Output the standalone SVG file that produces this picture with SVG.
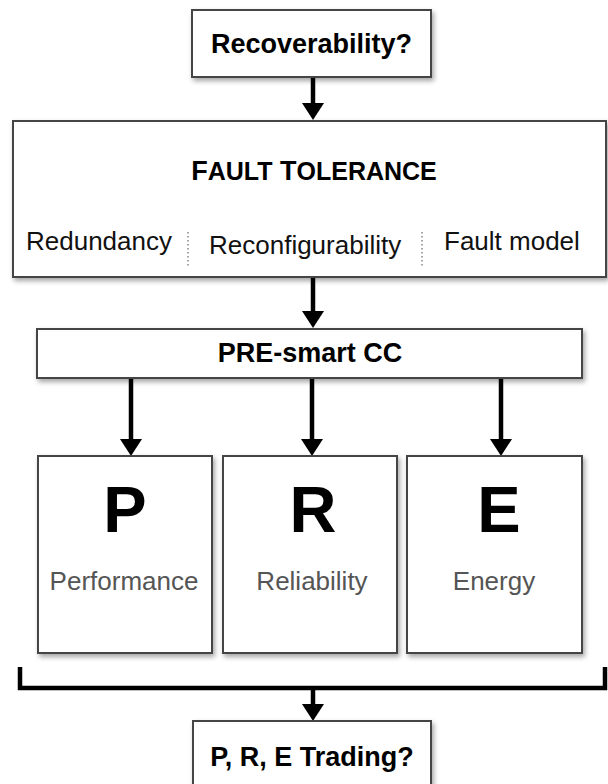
<svg xmlns="http://www.w3.org/2000/svg" width="608" height="784" viewBox="0 0 608 784">
  <defs>
    <filter id="shadow" x="-10%" y="-10%" width="130%" height="130%">
      <feDropShadow dx="2" dy="3" stdDeviation="2.5" flood-color="#000" flood-opacity="0.35"/>
    </filter>
    <!-- filled triangular arrowhead, tip at the origin, pointing down -->
    <path id="tip" d="M-11,-17 L11,-17 L0,0 Z" fill="#000"/>
  </defs>
  <style>
    .box { fill: #fff; stroke: #444; stroke-width: 2; filter: url(#shadow); }
    .title { font-family: "Liberation Sans", Arial, sans-serif; font-weight: bold; font-size: 27px; fill: #000; text-anchor: middle; }
    .sub { font-family: "Liberation Sans", Arial, sans-serif; font-size: 26px; fill: #111; }
    .big { font-family: "Liberation Sans", Arial, sans-serif; font-weight: bold; font-size: 65px; fill: #000; text-anchor: middle; }
    .label { font-family: "Liberation Sans", Arial, sans-serif; font-size: 26px; fill: #555; text-anchor: middle; }
    .sep { stroke: #888; stroke-width: 1.5; stroke-dasharray: 1.5 2.5; }
    .conn { stroke: #000; stroke-width: 4.5; fill: none; }
  </style>

  <!-- connectors -->
  <g id="connectors">
    <line class="conn" x1="313" y1="78" x2="313" y2="105"/>
    <use href="#tip" x="313" y="120"/>
    <line class="conn" x1="313" y1="277" x2="313" y2="313"/>
    <use href="#tip" x="313" y="328"/>
    <line class="conn" x1="131" y1="378" x2="131" y2="441"/>
    <use href="#tip" x="131" y="456"/>
    <line class="conn" x1="312" y1="378" x2="312" y2="441"/>
    <use href="#tip" x="312" y="456"/>
    <line class="conn" x1="501" y1="378" x2="501" y2="441"/>
    <use href="#tip" x="501" y="456"/>
    <path class="conn" d="M20,667 V688 H605 V667"/>
    <line class="conn" x1="313" y1="688" x2="313" y2="706"/>
    <use href="#tip" x="313" y="721"/>
  </g>

  <!-- top question -->
  <g id="recoverability">
    <rect class="box" x="192" y="10" width="239" height="67"/>
    <text class="title" x="311.5" y="53">Recoverability?</text>
  </g>

  <!-- fault tolerance block -->
  <g id="fault-tolerance">
    <rect class="box" x="13" y="121" width="593" height="156"/>
    <text class="title" x="314" y="180" font-size="31"><tspan>F</tspan><tspan font-size="25">AULT</tspan> <tspan>T</tspan><tspan font-size="25">OLERANCE</tspan></text>
    <text class="sub" x="26" y="250">Redundancy</text>
    <text class="sub" x="209" y="254">Reconfigurability</text>
    <text class="sub" x="444" y="250">Fault model</text>
    <line class="sep" x1="188" y1="232" x2="188" y2="268"/>
    <line class="sep" x1="422" y1="232" x2="422" y2="268"/>
  </g>

  <!-- controller -->
  <g id="pre-smart-cc">
    <rect class="box" x="37" y="329" width="545" height="49"/>
    <text class="title" x="310" y="362">PRE-smart CC</text>
  </g>

  <!-- metrics -->
  <g id="performance">
    <rect class="box" x="38" y="456" width="174" height="197"/>
    <text class="big" x="125" y="532">P</text>
    <text class="label" x="124" y="590">Performance</text>
  </g>
  <g id="reliability">
    <rect class="box" x="223" y="456" width="174" height="197"/>
    <text class="big" x="313" y="532">R</text>
    <text class="label" x="312" y="590">Reliability</text>
  </g>
  <g id="energy">
    <rect class="box" x="407" y="456" width="175" height="197"/>
    <text class="big" x="499" y="532">E</text>
    <text class="label" x="494" y="590">Energy</text>
  </g>

  <!-- bottom question -->
  <g id="trading">
    <rect class="box" x="193" y="721" width="238" height="80"/>
    <text class="title" x="312" y="766">P, R, E Trading?</text>
  </g>
</svg>
